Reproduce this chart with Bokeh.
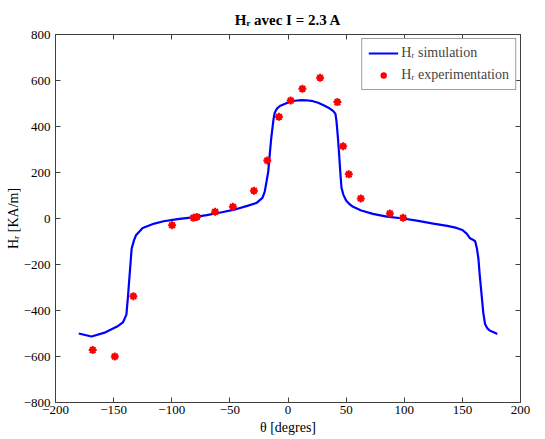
from bokeh.plotting import figure
from bokeh.models import Range1d, LinearAxis, FixedTicker, Legend, LegendItem, CustomJSTickFormatter
from bokeh.embed import file_html
from bokeh.resources import INLINE

theta_sim = [-180, -169, -157, -147, -142, -139, -137.5, -136.5, -134.5, -132.5, -130.8, -125, -115,
             -107, -95, -82, -70, -59, -45, -35, -27, -22, -20, -18.5, -17, -15.5, -14.4, -12.5,
             -11.5, -9.5, -7, -3, 1.5, 6, 11.5, 16, 21.5, 26, 31.5, 36, 39, 40.8, 41.7, 42.8, 44,
             45, 46, 47.5, 50, 53, 56, 63, 73, 85, 99, 112, 125, 137, 145, 150, 153.7, 156.6, 159,
             161, 162.5, 163.8, 165, 166.6, 168, 169.5, 171.5, 173.8, 177, 180]
H_sim = [-500, -513, -495, -470, -452, -418, -330, -262, -131, -95, -73, -41, -22,
         -12, -3, 5, 15, 25, 40, 55, 68, 90, 117, 160, 204, 290, 350, 430,
         459, 478, 489, 498, 507, 512, 515, 514, 510, 503, 490, 478, 467, 455, 423, 360, 277,
         200, 135, 105, 78, 62, 51, 35, 20, 8, 0, -10, -22, -32, -41, -50, -66, -86, -92,
         -99, -130, -175, -250, -335, -410, -459, -478, -488, -495, -502]

theta_exp = [-168, -149, -133, -99.7, -81.3, -78.4, -62.7, -47.4, -29.3, -17.8, -7.8, 2.3,
             12.4, 27.6, 42.5, 47.4, 52.3, 62.6, 87.6, 99]
H_exp = [-572, -600, -338, -29, 3, 7, 29, 51, 121, 252, 442, 513,
         564, 612, 506, 314, 192, 87, 22, 3]

x_ticks = [-200, -150, -100, -50, 0, 50, 100, 150, 200]
y_ticks = [-800, -600, -400, -200, 0, 200, 400, 600, 800]

FONT = "'Liberation Serif'"
AX = "#404040"

p = figure(frame_width=465, frame_height=368, output_backend="svg", toolbar_location=None,
           x_range=Range1d(-200, 200), y_range=Range1d(-800, 800),
           min_border_left=55, min_border_top=34, min_border_right=10, min_border_bottom=10,
           title="H\u1d63 avec I = 2.3 A")
p.title.align = "center"
p.title.text_font = FONT
p.title.text_font_size = "15px"
p.title.text_font_style = "bold"
p.title.text_color = "black"
p.title.standoff = 14
p.xgrid.visible = False
p.ygrid.visible = False
p.outline_line_color = AX
p.background_fill_color = "white"
p.border_fill_color = "white"

for ax in (p.xaxis[0], p.yaxis[0]):
    ax.major_tick_in = 5
    ax.major_tick_out = 0
    ax.minor_tick_line_color = None
    ax.axis_line_color = AX
    ax.major_tick_line_color = AX
    ax.major_label_text_font = FONT
    ax.major_label_text_font_size = "13px"
    ax.major_label_text_color = "black"
    ax.axis_label_text_font = FONT
    ax.axis_label_text_font_size = "14px"
    ax.axis_label_text_font_style = "normal"
    ax.axis_label_text_color = "black"

p.xaxis[0].ticker = FixedTicker(ticks=x_ticks)
p.yaxis[0].ticker = FixedTicker(ticks=y_ticks)
p.xaxis[0].axis_label = "\u03b8 [degres]"
p.yaxis[0].axis_label = "H\u1d63 [KA/m]"
p.xaxis[0].major_label_standoff = 3
p.xaxis[0].axis_label_standoff = 3
p.yaxis[0].major_label_standoff = 5
p.yaxis[0].axis_label_standoff = 0

for loc, tk in (("right", y_ticks), ("above", x_ticks)):
    a = LinearAxis(ticker=FixedTicker(ticks=tk), major_tick_in=5, major_tick_out=0,
                   minor_tick_line_color=None, axis_line_color=AX, major_tick_line_color=AX,
                   formatter=CustomJSTickFormatter(code="return ''"),
                   major_label_standoff=0)
    p.add_layout(a, loc)

line = p.line(theta_sim, H_sim, line_color="#0000ff", line_width=2.2)
dots = p.scatter(theta_exp, H_exp, marker="circle", size=6, fill_color="#ff0000", line_color=None)
stars = p.scatter(theta_exp, H_exp, marker="asterisk", size=8, line_color="#ff0000", line_width=2)

legend = Legend(items=[LegendItem(label="H\u1d63 simulation", renderers=[line]),
                       LegendItem(label="H\u1d63 experimentation", renderers=[dots])],
                location="top_right", margin=4, padding=6, spacing=6,
                glyph_width=30, glyph_height=16, label_standoff=3,
                label_text_font=FONT, label_text_font_size="14px",
                border_line_color=AX, border_line_width=1, background_fill_alpha=1)
p.add_layout(legend)

open("out.html", "w").write(file_html(p, INLINE))
